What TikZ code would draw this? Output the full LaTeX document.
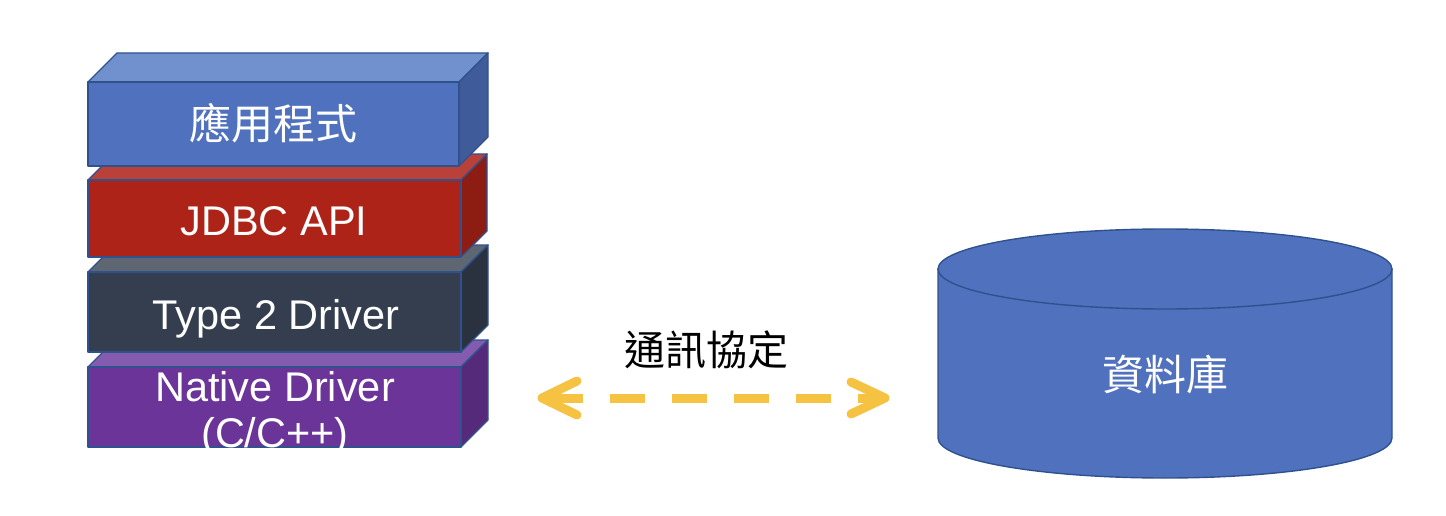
\documentclass[tikz,border=0pt]{standalone}
\usepackage{fontspec}
\setmainfont{Liberation Sans}
\newfontfamily\cjk{Noto Sans CJK TC}
\definecolor{bordc}{HTML}{2F528F}
\definecolor{blueF}{HTML}{4F71BE}
\definecolor{blueT}{HTML}{7190CE}
\definecolor{blueS}{HTML}{3F5B9A}
\definecolor{redF}{HTML}{AD2318}
\definecolor{redT}{HTML}{BA413A}
\definecolor{redS}{HTML}{8D1C13}
\definecolor{darkF}{HTML}{343E4F}
\definecolor{darkT}{HTML}{5E6671}
\definecolor{darkS}{HTML}{2A323F}
\definecolor{purF}{HTML}{6A3499}
\definecolor{purT}{HTML}{855BAF}
\definecolor{purS}{HTML}{552A7B}
\definecolor{ylw}{HTML}{F5C242}
\newcommand\layerbox[8]{%
  \filldraw[edge, fill=#7] (#1,#2) -- ({#1+#5},{#2-#5}) -- ({#3+#5},{#2-#5}) -- (#3,#2) -- cycle;
  \filldraw[edge, fill=#8] (#3,#2) -- ({#3+#5},{#2-#5}) -- ({#3+#5},{#4-#5}) -- (#3,#4) -- cycle;
  \filldraw[edge, fill=#6] (#1,#2) rectangle (#3,#4);
}
\begin{document}
\begin{tikzpicture}[x=1pt,y=-1pt,
  edge/.style={draw=bordc, line width=1.4pt, line join=round},
  lbl/.style={text=white, inner sep=0pt, font=\fontsize{41.5}{46}\selectfont},
  cjklbl/.style={lbl, font=\cjk\fontsize{42}{50}\selectfont},
  dbshape/.style={draw=bordc, fill=blueF, line width=1.4pt},
  link/.style={draw=ylw, line width=9pt, line cap=butt},
  tipline/.style={draw=ylw, line width=9pt, line cap=round, line join=round}]
\useasboundingbox (0,0) rectangle (1446,516);
% stack of layers, bottom first
\layerbox{88}{367}{461}{447}{27}{purF}{purT}{purS}
\layerbox{88}{272}{461}{352}{27}{darkF}{darkT}{darkS}
\layerbox{88}{180}{461}{257}{26}{redF}{redT}{redS}
\layerbox{88}{82}{459}{166}{29}{blueF}{blueT}{blueS}
\node[cjklbl] (app) at (273,123) {應用程式};
\node[lbl] (jdbc) at (274,221) {JDBC API};
\node[lbl, anchor=base] (type2) at (276,329) {Type 2 Driver};
\begin{scope}
  \clip (80,340) rectangle (470,448);
  \node[lbl, align=center, anchor=north] (native) at (275,371) {Native Driver\\(C/C++)};
\end{scope}
% database cylinder
\filldraw[dbshape] (938,269) -- (938,438) arc[start angle=180, end angle=360, x radius=227pt, y radius=40pt] -- (1392,269) -- cycle;
\filldraw[dbshape] (1165,269) ellipse[x radius=227pt, y radius=40pt];
\node[cjklbl] (db) at (1165,374) {資料庫};
% protocol
\node[cjklbl, text=black, font=\cjk\fontsize{41}{50}\selectfont] (proto) at (706,350) {通訊協定};
\coordinate (L) at (542,398);
\coordinate (R) at (885,398);
\draw[link, dash pattern=on 41pt off 27pt on 35pt off 27pt on 35pt off 27pt on 35pt off 27pt on 35pt off 27pt on 60pt] (L) -- (R);
\draw[tipline] ([shift={(35,-17)}]L) -- (L) -- ([shift={(35,17)}]L);
\draw[tipline] ([shift={(-34,-16)}]R) -- (R) -- ([shift={(-34,16)}]R);
\end{tikzpicture}
\end{document}
